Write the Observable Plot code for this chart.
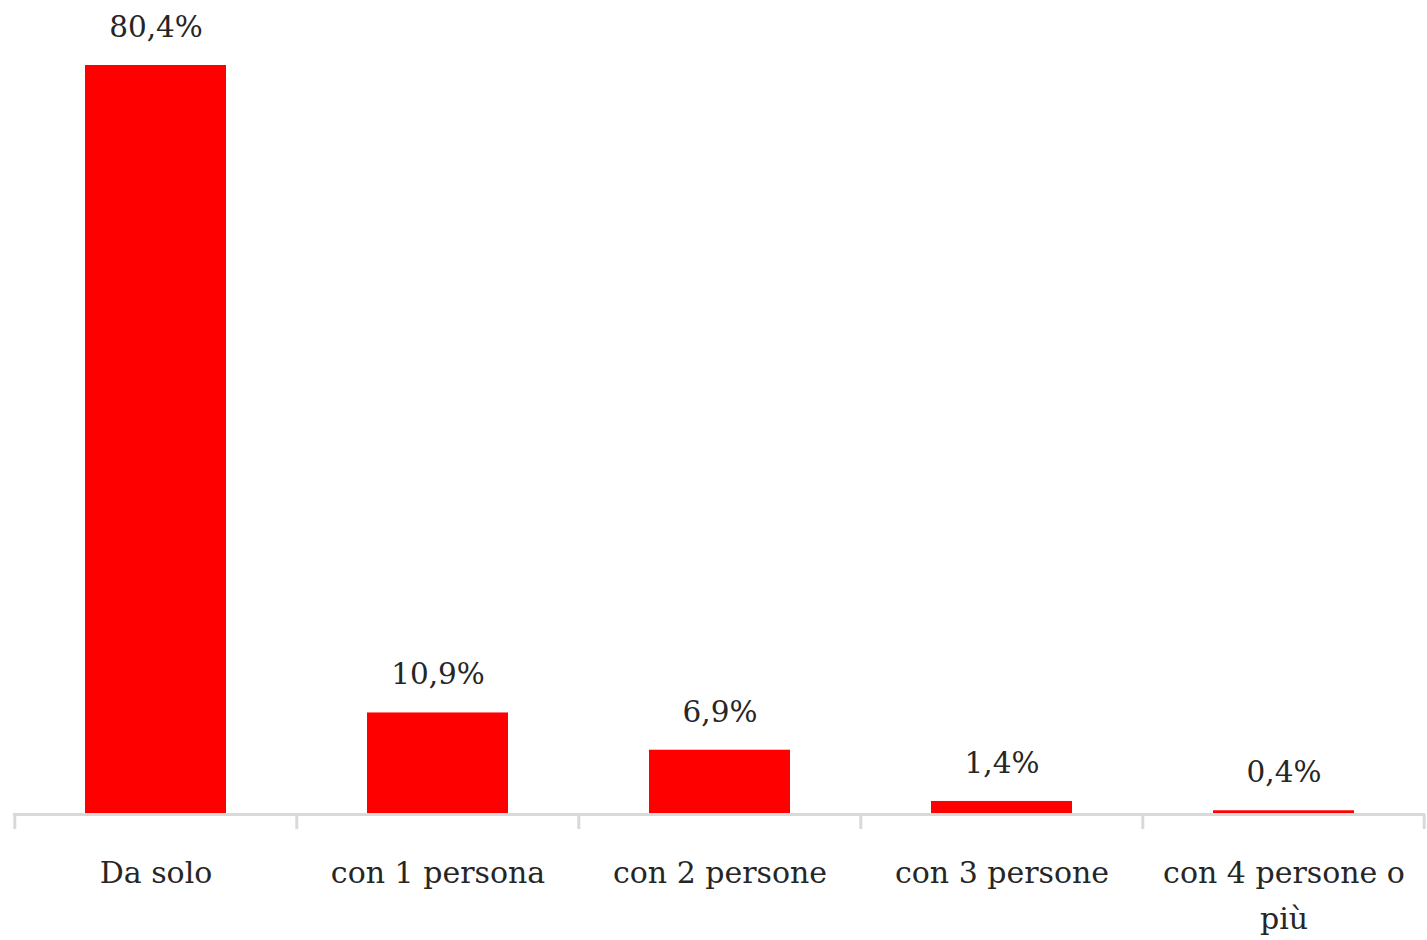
<!DOCTYPE html>
<html><head><meta charset="utf-8">
<script src="https://cdn.jsdelivr.net/npm/d3@7"></script>
<script src="https://cdn.jsdelivr.net/npm/@observablehq/plot@0.6"></script>
<style>body{margin:0;background:#fff}</style>
</head><body><div id="chart"></div>
<script>
const categories = ["Da solo", "con 1 persona", "con 2 persone", "con 3 persone", "con 4 persone o più"];
const values = [80.4, 10.9, 6.9, 1.4, 0.4];
const labels = ["80,4%", "10,9%", "6,9%", "1,4%", "0,4%"];

const data = categories.map((c, i) => ({cat: c, v: values[i], label: labels[i]}));
const W = 1427, H = 940, ml = 13, mr = 2;
const step = (W - ml - mr) / categories.length;
const font = "'DejaVu Serif', serif";

const chart = Plot.plot({
  width: W, height: H,
  marginLeft: ml, marginRight: mr, marginTop: 65, marginBottom: 126,
  style: {fontFamily: font, background: "#fff"},
  x: {domain: categories, paddingInner: 0.5, paddingOuter: 0.25, label: null, axis: null},
  y: {domain: [0, 80.4], axis: null},
  marks: [
    Plot.barY(data, {x: "cat", y: "v", fill: "#ff0000"}),
    Plot.ruleY([0], {stroke: "#d9d9d9", strokeWidth: 3}),
    Plot.ruleX(data, {x: "cat", y1: 0, y2: 0, dx: -step/2, insetBottom: -15, stroke: "#d9d9d9", strokeWidth: 3}),
    Plot.ruleX(data.slice(-1), {x: "cat", y1: 0, y2: 0, dx: step/2 - 1, insetBottom: -15, stroke: "#d9d9d9", strokeWidth: 3}),
    Plot.text(data, {x: "cat", y: "v", text: "label", dy: -38, fontSize: 29.5, fill: "#262626", fontFamily: font}),
    Plot.text(data, {x: "cat", y: 0, text: "cat", dy: 35, fontSize: 30, fill: "#262626", fontFamily: font, lineWidth: 8.6, lineAnchor: "top", lineHeight: 1.55})
  ]
});
document.getElementById("chart").appendChild(chart);
</script></body></html>
